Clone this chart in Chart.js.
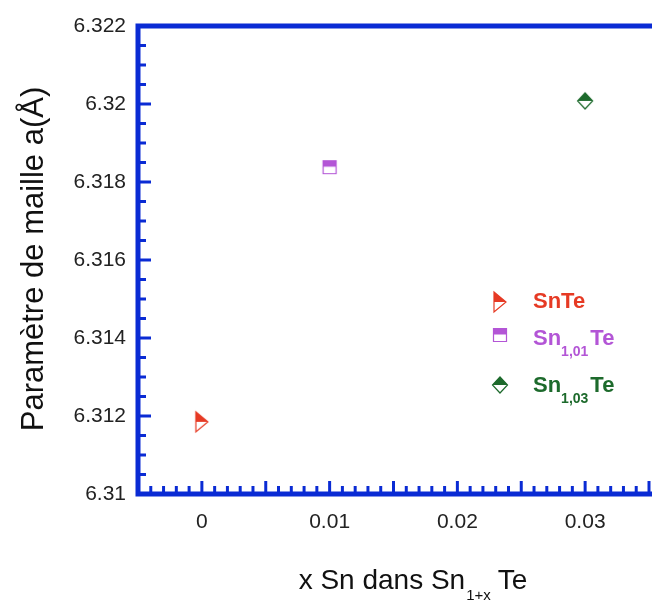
<!DOCTYPE html>
<html lang="fr">
<head>
<meta charset="UTF-8">
<title>Paramètre de maille</title>
<script src="https://cdn.jsdelivr.net/npm/chart.js"></script>
<style>
  body { margin: 0; overflow: hidden; background: #fff; }
</style>
</head>
<body>
<canvas id="latticeChart" width="660" height="601"></canvas>
<script>
// values
const samples = ['SnTe', 'Sn1,01Te', 'Sn1,03Te'];
const xSn = [0, 0.01, 0.03];
const latticeA = [6.31185, 6.31838, 6.32008];
const xTickValues = [0, 0.01, 0.02, 0.03];
const yTickValues = [6.31, 6.312, 6.314, 6.316, 6.318, 6.32, 6.322];
const legendMain = ['SnTe', 'Sn', 'Sn'];
const legendSub = ['', '1,01', '1,03'];
const legendTail = ['', 'Te', 'Te'];

const colors = ['#e63a24', '#b355d6', '#1d6a2c'];
const shapes = ['triangle', 'square', 'diamond'];
const axisBlue = '#0a2bd4';
const FONT = 'Arial, "Liberation Sans", sans-serif';

function poly(ctx, pts, cx, cy) {
  ctx.beginPath();
  pts.forEach((p, i) => i ? ctx.lineTo(cx + p[0], cy + p[1]) : ctx.moveTo(cx + p[0], cy + p[1]));
  ctx.closePath();
}

// half filled markers
function drawMarker(ctx, shape, color, cx, cy) {
  let outline, top;
  if (shape === 'triangle') {
    outline = [[-6, -10], [6, 0], [-6, 10]];
    top = [[-6, -10], [6, 0], [-6, 0]];
  } else if (shape === 'square') {
    outline = [[-6.5, -6.5], [6.5, -6.5], [6.5, 6.5], [-6.5, 6.5]];
    top = [[-6.5, -6.5], [6.5, -6.5], [6.5, -0.5], [-6.5, -0.5]];
  } else {
    outline = [[0, -8], [7.5, 0], [0, 8], [-7.5, 0]];
    top = [[0, -8], [7.5, 0], [-7.5, 0]];
  }
  ctx.save();
  ctx.fillStyle = color;
  ctx.strokeStyle = color;
  ctx.lineWidth = 1.2;
  poly(ctx, top, cx, cy);
  ctx.fill();
  poly(ctx, outline, cx, cy);
  ctx.stroke();
  ctx.restore();
}

function markerImage(shape, color) {
  const c = document.createElement('canvas');
  c.width = 28; c.height = 28;
  drawMarker(c.getContext('2d'), shape, color, 14, 14);
  return c;
}

const frame = {
  id: 'frame',
  beforeDatasetsDraw(chart) {
    const { ctx, chartArea: a, scales: { x, y } } = chart;
    ctx.save();
    ctx.strokeStyle = axisBlue;
    ctx.lineCap = 'butt';
    // inward ticks
    ctx.lineWidth = 3;
    for (let i = 0; i <= 24; i++) {
      const py = y.getPixelForValue(6.31 + i * 0.0005);
      const len = i % 4 === 0 ? 13 : 8;
      ctx.beginPath(); ctx.moveTo(a.left, py); ctx.lineTo(a.left + len, py); ctx.stroke();
    }
    for (let i = 0; i <= 40; i++) {
      const px = x.getPixelForValue(-0.005 + i * 0.001);
      const len = i % 5 === 0 ? 13 : 8;
      ctx.beginPath(); ctx.moveTo(px, a.bottom); ctx.lineTo(px, a.bottom - len); ctx.stroke();
    }
    // frame lines
    ctx.lineWidth = 5;
    ctx.beginPath();
    ctx.moveTo(a.right + 3, a.top); ctx.lineTo(a.left, a.top);
    ctx.lineTo(a.left, a.bottom); ctx.lineTo(a.right + 3, a.bottom);
    ctx.stroke();
    ctx.restore();
  },
  afterDraw(chart) {
    const ctx = chart.ctx;
    ctx.save();
    ctx.fillStyle = '#111';
    // y title
    ctx.font = '31px ' + FONT;
    ctx.textAlign = 'center';
    ctx.textBaseline = 'alphabetic';
    ctx.translate(43, 259);
    ctx.rotate(-Math.PI / 2);
    ctx.fillText('Paramètre de maille a(Å)', 0, 0);
    ctx.setTransform(1, 0, 0, 1, 0, 0);
    // x title with subscript
    ctx.textAlign = 'left';
    const main = 'x Sn dans Sn', sub = '1+x', tail = 'Te';
    ctx.font = '28px ' + FONT;
    const wMain = ctx.measureText(main).width, wTail = ctx.measureText(tail).width;
    ctx.font = '15px ' + FONT;
    const wSub = ctx.measureText(sub).width;
    let tx = 413 - (wMain + wSub + wTail + 8) / 2;
    ctx.font = '28px ' + FONT;
    ctx.fillText(main, tx, 589);
    ctx.font = '15px ' + FONT;
    ctx.fillText(sub, tx + wMain + 1, 600);
    ctx.font = '28px ' + FONT;
    ctx.fillText(tail, tx + wMain + wSub + 8, 589);
    // legend
    const rows = [302, 335, 385];
    const baselines = [308, 345, 392];
    samples.forEach((s, i) => {
      drawMarker(ctx, shapes[i], colors[i], 500, rows[i]);
      ctx.fillStyle = colors[i];
      let lx = 533;
      ctx.font = 'bold 22px ' + FONT;
      ctx.fillText(legendMain[i], lx, baselines[i]);
      lx += ctx.measureText(legendMain[i]).width;
      if (legendSub[i]) {
        ctx.font = 'bold 14px ' + FONT;
        ctx.fillText(legendSub[i], lx, baselines[i] + 11);
        lx += ctx.measureText(legendSub[i]).width + 2;
        ctx.font = 'bold 22px ' + FONT;
        ctx.fillText(legendTail[i], lx, baselines[i]);
      }
    });
    ctx.restore();
  }
};

new Chart(document.getElementById('latticeChart'), {
  type: 'scatter',
  data: {
    datasets: samples.map((s, i) => ({
      label: s,
      data: [{ x: xSn[i], y: latticeA[i] }],
      pointStyle: markerImage(shapes[i], colors[i]),
      pointRadius: 10
    }))
  },
  options: {
    responsive: false,
    devicePixelRatio: 1,
    animation: false,
    layout: { padding: { top: 26, right: 2, bottom: 0, left: 0 } },
    plugins: { legend: { display: false }, tooltip: { enabled: false } },
    scales: {
      x: {
        type: 'linear',
        min: -0.005,
        max: 0.035,
        afterBuildTicks: sc => { sc.ticks = xTickValues.map(v => ({ value: v })); },
        afterFit: sc => { sc.height = 107; },
        grid: { display: false, drawTicks: false },
        border: { display: false },
        ticks: {
          padding: 16,
          maxRotation: 0,
          color: '#222',
          font: { family: FONT, size: 21 },
          callback: v => String(parseFloat(v.toFixed(3)))
        }
      },
      y: {
        min: 6.31,
        max: 6.322,
        afterBuildTicks: sc => { sc.ticks = yTickValues.map(v => ({ value: v })); },
        afterFit: sc => { sc.width = 138; },
        grid: { display: false, drawTicks: false },
        border: { display: false },
        ticks: {
          padding: 12,
          color: '#222',
          font: { family: FONT, size: 21 },
          callback: v => String(parseFloat(v.toFixed(3)))
        }
      }
    }
  },
  plugins: [frame]
});
</script>
</body>
</html>
